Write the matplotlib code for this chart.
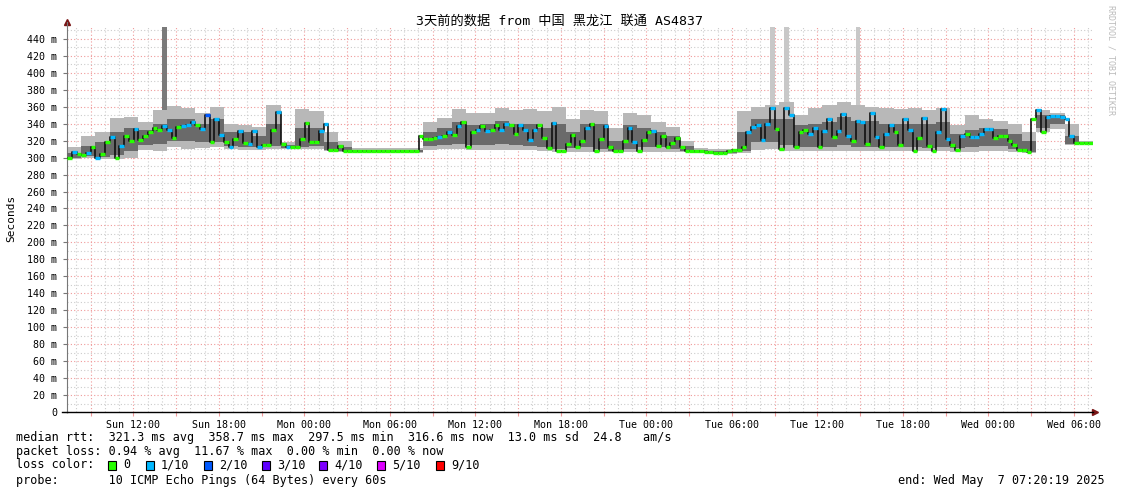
import matplotlib
matplotlib.use('Agg')
import matplotlib.pyplot as plt
import matplotlib.dates as mdates
from matplotlib.patches import Rectangle
from matplotlib.ticker import MultipleLocator, FuncFormatter
import pandas as pd

# smokeping style latency graph, 3 days, 20 min median steps, hourly smoke
plt.rcParams['font.family'] = ['DejaVu Sans Mono', 'Noto Sans CJK SC']

start = pd.Timestamp('2025-05-04 07:20:19')
end = pd.Timestamp('2025-05-07 07:20:19')

title = '3天前的数据 from 中国 黑龙江 联通 AS4837'

# median rtt (ms), one value per 20 minutes
median_ms = [
    299, 307, 304, 303, 305, 312, 300, 304, 318, 324,
    300, 314, 326, 320, 334, 321, 325, 330, 335, 333,
    337, 333, 323, 336, 337, 338, 342, 338, 334, 350,
    318, 346, 327, 318, 313, 322, 331, 317, 316, 331,
    312, 315, 315, 333, 354, 316, 313, 313, 313, 322,
    341, 318, 318, 331, 340, 309, 309, 314, 308, 308,
    308, 308, 308, 308, 308, 308, 308, 308, 308, 308,
    308, 308, 308, 308, 325, 322, 322, 323, 324, 326,
    330, 327, 337, 342, 313, 330, 333, 337, 331, 332,
    339, 332, 340, 338, 328, 338, 332, 321, 332, 339,
    323, 311, 341, 308, 308, 316, 327, 312, 320, 335,
    340, 308, 322, 337, 312, 308, 308, 320, 335, 318,
    308, 321, 330, 331, 314, 326, 312, 317, 323, 312,
    308, 308, 308, 308, 307, 307, 306, 305, 306, 308,
    309, 309, 313, 330, 336, 339, 321, 340, 359, 334,
    310, 359, 350, 312, 330, 332, 328, 335, 312, 331,
    345, 324, 331, 351, 326, 319, 343, 342, 316, 352,
    324, 312, 328, 338, 330, 315, 346, 332, 308, 323,
    347, 314, 308, 330, 357, 322, 315, 309, 326, 328,
    324, 324, 328, 334, 334, 323, 326, 326, 320, 315,
    309, 309, 307, 346, 356, 330, 348, 349, 349, 348,
    346, 326, 317, 317, 317, 317,
]

# packet loss in tenths, same steps
loss_tenths = [
    0, 1, 0, 0, 1, 0, 1, 0, 0, 1,
    0, 1, 0, 0, 1, 0, 0, 0, 0, 0,
    1, 1, 0, 0, 1, 1, 1, 0, 1, 2,
    0, 1, 1, 0, 1, 0, 1, 0, 1, 1,
    1, 0, 0, 0, 1, 0, 1, 0, 0, 0,
    0, 0, 0, 1, 1, 0, 0, 0, 0, 0,
    0, 0, 0, 0, 0, 0, 0, 0, 0, 0,
    0, 0, 0, 0, 0, 0, 0, 0, 1, 0,
    1, 0, 1, 0, 0, 0, 1, 0, 1, 0,
    0, 1, 1, 0, 0, 1, 1, 1, 1, 0,
    0, 0, 1, 0, 0, 0, 0, 0, 0, 1,
    0, 0, 0, 1, 0, 0, 0, 0, 1, 1,
    0, 0, 0, 1, 0, 0, 0, 0, 0, 0,
    0, 0, 0, 0, 0, 0, 0, 0, 0, 0,
    0, 0, 0, 1, 1, 1, 1, 1, 1, 0,
    0, 1, 1, 0, 0, 0, 1, 1, 0, 1,
    1, 0, 1, 1, 1, 0, 1, 1, 0, 1,
    1, 0, 1, 1, 0, 0, 1, 1, 0, 0,
    1, 0, 0, 1, 1, 1, 0, 0, 1, 0,
    1, 1, 1, 1, 1, 0, 0, 0, 0, 0,
    0, 0, 0, 0, 1, 0, 1, 1, 1, 1,
    1, 1, 0, 0, 0, 0,
]

# smoke (ping spread), one value per hour: outer min/max and inner band
smoke_lo = [298, 299, 298, 298, 300, 309, 308, 312, 310, 311, 312, 310,
            309, 309, 310, 310, 310, 310, 308, 307, 306, 306, 306, 306,
            306, 309, 310, 310, 309, 309, 309, 309, 309, 308, 307, 307,
            307, 307, 307, 307, 307, 307, 307, 307, 305, 304, 304, 306,
            309, 310, 308, 308, 308, 308, 308, 308, 308, 308, 308, 308,
            308, 308, 307, 307, 308, 308, 307, 306, 330, 334, 315, 316]
smoke_lo2 = [300, 302, 301, 303, 308, 315, 316, 320, 320, 318, 318, 314,
             313, 312, 314, 311, 313, 314, 309, 308, 307, 307, 307, 307,
             307, 314, 315, 316, 315, 315, 316, 315, 314, 312, 310, 311,
             312, 310, 308, 310, 312, 312, 310, 308, 306, 305, 305, 308,
             318, 318, 315, 313, 313, 313, 315, 313, 313, 313, 312, 312,
             311, 312, 311, 313, 314, 314, 310, 307, 335, 340, 316, 316]
smoke_hi2 = [306, 314, 318, 330, 335, 333, 340, 345, 345, 340, 345, 330,
             330, 326, 340, 315, 335, 335, 318, 312, 309, 309, 309, 309,
             309, 330, 335, 342, 338, 340, 343, 340, 340, 335, 340, 330,
             340, 340, 320, 338, 335, 330, 325, 314, 309, 308, 308, 330,
             345, 345, 345, 338, 340, 342, 348, 343, 343, 340, 340, 340,
             340, 342, 328, 333, 335, 334, 328, 320, 350, 350, 325, 318]
smoke_hi = [312, 326, 330, 347, 348, 342, 356, 361, 359, 352, 360, 340,
            339, 336, 362, 318, 357, 355, 330, 320, 311, 311, 311, 311,
            311, 342, 347, 357, 353, 352, 358, 356, 357, 355, 360, 345,
            356, 355, 335, 353, 350, 342, 336, 320, 311, 310, 310, 355,
            360, 362, 365, 350, 358, 362, 366, 362, 360, 358, 357, 358,
            356, 358, 338, 350, 345, 343, 340, 330, 356, 353, 340, 319]

# single outlier pings that reach the top of the graph (20 min step index)
spike_bins = [20, 148, 151, 166]
spike_top = [454, 454, 454, 454]

loss_levels = [0, 1, 2, 3, 4, 5, 9]
loss_labels = ['0', '1/10', '2/10', '3/10', '4/10', '5/10', '9/10']
loss_colors = ['#26ff00', '#00b8ff', '#0059ff', '#5e00ff', '#7e00ff', '#dd00ff', '#ff0000']

legend_rows = [
    'median rtt:  321.3 ms avg  358.7 ms max  297.5 ms min  316.6 ms now  13.0 ms sd  24.8   am/s',
    'packet loss: 0.94 % avg  11.67 % max  0.00 % min  0.00 % now',
    'loss color:',
    'probe:       10 ICMP Echo Pings (64 Bytes) every 60s',
]
end_text = 'end: Wed May  7 07:20:19 2025'

assert len(median_ms) == 216 and len(loss_tenths) == 216

W, H = 1121, 494
fig = plt.figure(figsize=(W / 100, H / 100), dpi=100, facecolor='white')
ax = fig.add_axes([67 / W, (H - 412) / H, (1093 - 67) / W, (412 - 27) / H])


def fx(x):
    return x / W


def fy(y):
    return 1 - y / H


t20 = mdates.date2num(pd.date_range(start, periods=217, freq='20min').to_pydatetime())
t60 = mdates.date2num(pd.date_range(start, periods=73, freq='h').to_pydatetime())

# smoke
ax.fill_between(t60, smoke_lo + smoke_lo[-1:], smoke_hi + smoke_hi[-1:], step='post',
                color='#b8b8b8', lw=0, zorder=2)
ax.fill_between(t60, smoke_lo2 + smoke_lo2[-1:], smoke_hi2 + smoke_hi2[-1:], step='post',
                color='#6a6a6a', lw=0, zorder=3)
step_w = t20[1] - t20[0]
for k, (b, top) in enumerate(zip(spike_bins, spike_top)):
    ax.bar(t20[b], top - 330, bottom=330, width=step_w, align='edge',
           color='#7a7a7a' if k == 0 else '#c8c8c8', lw=0, zorder=1.5)

# median line, coloured by loss
ax.step(t20, median_ms + median_ms[-1:], where='post', color='#111111', lw=1.2, zorder=4)
seg_colors = [loss_colors[loss_levels.index(l)] for l in loss_tenths]
ax.hlines(median_ms, t20[:-1], t20[1:], colors=seg_colors, lw=2.4, zorder=5)

# axes
ax.set_xlim(mdates.date2num(start.to_pydatetime()), mdates.date2num(end.to_pydatetime()))
ax.set_ylim(0, 454)
ax.xaxis.set_major_locator(mdates.HourLocator(byhour=range(0, 24, 3)))
ax.xaxis.set_minor_locator(mdates.HourLocator())
ax.xaxis.set_major_formatter(FuncFormatter(
    lambda v, p: mdates.num2date(v).strftime('%a %H:%M') if mdates.num2date(v).hour % 6 == 0 else ''))
ax.yaxis.set_major_locator(MultipleLocator(20))
ax.yaxis.set_minor_locator(MultipleLocator(10))
ax.yaxis.set_major_formatter(FuncFormatter(lambda v, p: '0' if v == 0 else '%d m' % v))

ax.grid(which='minor', color='#cccccc', linestyle=(0, (1, 2)), lw=0.8, zorder=0)
ax.grid(which='major', color='#f09a9a', linestyle=(0, (1, 2)), lw=0.8, zorder=0)
ax.set_axisbelow(True)

ax.tick_params(axis='both', which='major', labelsize=7.2, length=3, width=0.8, color='#f09a9a', pad=3)
ax.tick_params(axis='both', which='minor', length=0)
ax.tick_params(axis='y', which='major', color='#777777', pad=4)

for s in ['top', 'right']:
    ax.spines[s].set_visible(False)
ax.spines['left'].set_color('#777777')
ax.spines['bottom'].set_color('black')
ax.spines['bottom'].set_linewidth(1.0)
ax.spines['left'].set_bounds(0, 460)
ax.plot([0], [1.013], marker='^', color='#7a1515', ms=4, transform=ax.transAxes, clip_on=False)
ax.plot([1.002], [0], marker='>', color='#7a1515', ms=4, transform=ax.transAxes, clip_on=False)
ax.plot([-5 / 1026, 0], [0, 0], color='black', lw=1.0, transform=ax.transAxes, clip_on=False)

# texts
fig.text(fx(560), fy(21), title, ha='center', va='center', fontsize=9.5)
fig.text(fx(11), fy(218), 'Seconds', rotation=90, ha='center', va='center', fontsize=8)
fig.text(fx(1111), fy(60), 'RRDTOOL / TOBI OETIKER', rotation=270, ha='center', va='center',
         fontsize=6, color='#bbbbbb')

row_y = [437, 451, 465, 480]
for txt, y in zip(legend_rows, row_y):
    fig.text(fx(16), fy(y), txt, ha='left', va='center', fontsize=8.5)
fig.text(fx(1105), fy(480), end_text, ha='right', va='center', fontsize=8.5)

box_x = [108, 146, 204, 262, 319, 377, 436]
for bx, col, lab in zip(box_x, loss_colors, loss_labels):
    fig.patches.append(Rectangle((fx(bx), fy(470)), 8 / W, 9 / H, transform=fig.transFigure,
                                 facecolor=col, edgecolor='black', lw=0.8))
    fig.text(fx(bx + 15), fy(465), lab, ha='left', va='center', fontsize=8.5)

fig.savefig('out.png', dpi=100)
